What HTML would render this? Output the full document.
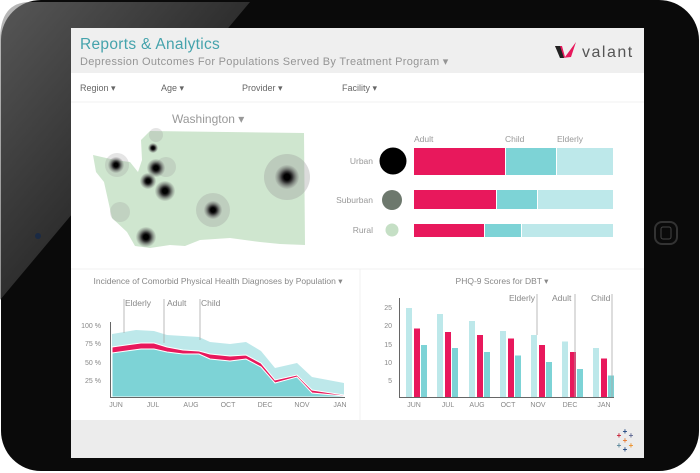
<!DOCTYPE html>
<html><head><meta charset="utf-8"><style>
body{margin:0;width:700px;height:473px;overflow:hidden;background:#fff;font-family:"Liberation Sans",sans-serif}
svg{display:block}
text{font-family:"Liberation Sans",sans-serif}
</style></head><body>
<svg width="700" height="473" viewBox="0 0 700 473" xmlns="http://www.w3.org/2000/svg">
<defs>
<linearGradient id="refl" x1="0" y1="0" x2="1" y2="1">
<stop offset="0" stop-color="#8a8a8a"/><stop offset="0.6" stop-color="#3a3a3a"/><stop offset="1" stop-color="#111"/>
</linearGradient>
<radialGradient id="dot"><stop offset="0.25" stop-color="#000"/><stop offset="0.45" stop-color="#333"/><stop offset="1" stop-color="#777" stop-opacity="0.1"/></radialGradient>
</defs>
<rect x="0" y="0" width="700" height="473" fill="#fff"/>
<rect x="1" y="0" width="698" height="471" rx="40" fill="#0a0a0a"/>
<path d="M30,2 L250,2 L0,300 L0,40 Q0,2 30,2Z" fill="url(#refl)" opacity="0.6"/>
<circle cx="38" cy="236" r="3" fill="#1a2a44"/>
<rect x="655" y="222" width="22" height="22" rx="7" fill="none" stroke="#333" stroke-width="2"/>
<rect x="661" y="227" width="10" height="12" rx="2" fill="none" stroke="#444" stroke-width="1"/>
<rect x="71" y="28" width="573" height="430" fill="#fff"/>
<rect x="71" y="28" width="573" height="45" fill="#efefef"/>
<rect x="71" y="420" width="573" height="38" fill="#ececec"/>
<text x="80" y="49" font-size="15.5" fill="#45a3ac" letter-spacing="0.3">Reports &amp; Analytics</text>
<text x="80" y="65" font-size="11" fill="#959595" letter-spacing="0.3">Depression Outcomes For Populations Served By Treatment Program ▾</text>
<path d="M555,46 L562,46 L565,57 L576,42 L571,57 L562,58Z" fill="#e8185c"/>
<path d="M555,46 L560,46 L564,58 L560,58Z" fill="#222"/>
<text x="582" y="57" font-size="16" fill="#555" letter-spacing="1.5">valant</text>
<g font-size="9" fill="#666">
<text x="80" y="91">Region ▾</text><text x="161" y="91">Age ▾</text><text x="242" y="91">Provider ▾</text><text x="342" y="91">Facility ▾</text>
</g>
<line x1="71" y1="102" x2="644" y2="102" stroke="#f2f2f2"/>
<text x="172" y="123" font-size="12" fill="#999">Washington ▾</text>
<path d="M150,131 L304,133 L305,245 L280,244 L260,242 L230,238 L200,240 L185,246 L170,245 L150,248 L135,246 L127,232 L112,218 L108,200 L104,182 L96,172 L93,155 L115,160 L130,162 L138,172 L142,160 L141,140Z" fill="#cfe6cf"/>
<g>
<circle cx="287" cy="177" r="23" fill="#999" opacity="0.35"/>
<circle cx="213" cy="210" r="17" fill="#999" opacity="0.3"/>
<circle cx="117" cy="165" r="12" fill="#999" opacity="0.25"/>
<circle cx="166" cy="167" r="10" fill="#999" opacity="0.25"/>
<circle cx="120" cy="212" r="10" fill="#999" opacity="0.25"/>
<circle cx="156" cy="135" r="7" fill="#999" opacity="0.25"/>
<circle cx="287" cy="177" r="12" fill="url(#dot)"/>
<circle cx="213" cy="210" r="9" fill="url(#dot)"/>
<circle cx="116" cy="165" r="8" fill="url(#dot)"/>
<circle cx="156" cy="168" r="9" fill="url(#dot)"/>
<circle cx="148" cy="181" r="8" fill="url(#dot)"/>
<circle cx="165" cy="191" r="10" fill="url(#dot)"/>
<circle cx="146" cy="237" r="10" fill="url(#dot)"/>
<circle cx="153" cy="148" r="5" fill="url(#dot)"/>
</g>
<g font-size="8.5" fill="#999">
<text x="414" y="142">Adult</text><text x="505" y="142">Child</text><text x="557" y="142">Elderly</text>
<text x="373" y="164" text-anchor="end">Urban</text>
<text x="373" y="203" text-anchor="end">Suburban</text>
<text x="373" y="233" text-anchor="end">Rural</text>
</g>
<circle cx="393" cy="161" r="13.5" fill="#000"/>
<circle cx="392" cy="200" r="10" fill="#6d786d"/>
<circle cx="392" cy="230" r="6.5" fill="#c5dfc5"/>
<rect x="414" y="148" width="91" height="27" fill="#e8185c"/><rect x="506" y="148" width="50" height="27" fill="#7dd3d6"/><rect x="557" y="148" width="56" height="27" fill="#bde8ea"/>
<rect x="414" y="190" width="82" height="19" fill="#e8185c"/><rect x="497" y="190" width="40" height="19" fill="#7dd3d6"/><rect x="538" y="190" width="75" height="19" fill="#bde8ea"/>
<rect x="414" y="224" width="70" height="13" fill="#e8185c"/><rect x="485" y="224" width="36" height="13" fill="#7dd3d6"/><rect x="522" y="224" width="91" height="13" fill="#bde8ea"/>
<line x1="71" y1="269" x2="644" y2="269" stroke="#f0f0f0"/>
<line x1="360" y1="269" x2="360" y2="420" stroke="#f0f0f0"/>
<text x="218" y="284" font-size="8.5" fill="#888" text-anchor="middle">Incidence of Comorbid Physical Health Diagnoses by Population ▾</text>
<text x="502" y="284" font-size="8.5" fill="#888" text-anchor="middle">PHQ-9 Scores for DBT ▾</text>
<path d="M112,334 L136,330 L154,331 L167,335 L183,336 L199,337 L210,342 L230,344 L246,342 L261,351 L275,368 L297,363 L312,377 L344,383 L344,397 L112,397Z" fill="#bde8ea"/>
<path d="M112,347 L141,343 L154,343 L167,347 L183,350 L199,351 L210,354 L230,356 L246,355 L261,363 L275,380 L297,375 L312,390 L344,395 L344,397 L112,397Z" fill="#e8185c" stroke="#fff" stroke-width="1"/>
<path d="M112,353 L141,349 L154,349 L167,352 L183,354 L199,354 L210,359 L230,361 L246,359 L261,367 L275,383 L297,377 L312,393 L344,396 L344,397 L112,397Z" fill="#7dd3d6" stroke="#fff" stroke-width="1"/>
<g stroke="#666" stroke-width="1">
<line x1="110.5" y1="322" x2="110.5" y2="397"/><line x1="110" y1="397.5" x2="345" y2="397.5"/>
</g>
<g font-size="7" fill="#888" text-anchor="end">
<text x="101" y="328">100 %</text><text x="101" y="346">75 %</text><text x="101" y="365">50 %</text><text x="101" y="383">25 %</text>
</g>
<g font-size="7" fill="#888" text-anchor="middle">
<text x="116" y="407">JUN</text><text x="153" y="407">JUL</text><text x="191" y="407">AUG</text><text x="228" y="407">OCT</text><text x="265" y="407">DEC</text><text x="302" y="407">NOV</text><text x="340" y="407">JAN</text>
</g>
<g stroke="#aaa" stroke-width="0.8">
<line x1="124" y1="299" x2="124" y2="333"/><line x1="164" y1="299" x2="164" y2="343"/><line x1="200" y1="299" x2="200" y2="340"/>
</g>
<g font-size="8.5" fill="#888">
<text x="125" y="306">Elderly</text><text x="167" y="306">Adult</text><text x="201" y="306">Child</text>
</g>
<g>
<rect x="406" y="308" width="6" height="89" fill="#bde8ea"/><rect x="414" y="328.5" width="6" height="68.5" fill="#e8185c"/><rect x="421" y="345" width="6" height="52" fill="#7dd3d6"/>
<rect x="437" y="314" width="6" height="83" fill="#bde8ea"/><rect x="445" y="332" width="6" height="65" fill="#e8185c"/><rect x="452" y="348" width="6" height="49" fill="#7dd3d6"/>
<rect x="469" y="321" width="6" height="76" fill="#bde8ea"/><rect x="477" y="335" width="6" height="62" fill="#e8185c"/><rect x="484" y="352" width="6" height="45" fill="#7dd3d6"/>
<rect x="500" y="331" width="6" height="66" fill="#bde8ea"/><rect x="508" y="338.5" width="6" height="58.5" fill="#e8185c"/><rect x="515" y="355.5" width="6" height="41.5" fill="#7dd3d6"/>
<rect x="531" y="335" width="6" height="62" fill="#bde8ea"/><rect x="539" y="345" width="6" height="52" fill="#e8185c"/><rect x="546" y="362" width="6" height="35" fill="#7dd3d6"/>
<rect x="562" y="341.5" width="6" height="55.5" fill="#bde8ea"/><rect x="570" y="352" width="6" height="45" fill="#e8185c"/><rect x="577" y="369" width="6" height="28" fill="#7dd3d6"/>
<rect x="593" y="348" width="6" height="49" fill="#bde8ea"/><rect x="601" y="358.5" width="6" height="38.5" fill="#e8185c"/><rect x="608" y="375.5" width="6" height="21.5" fill="#7dd3d6"/>
</g>
<g stroke="#666" stroke-width="1">
<line x1="399.5" y1="298" x2="399.5" y2="397"/><line x1="399" y1="397.5" x2="614" y2="397.5"/>
</g>
<g font-size="7" fill="#888" text-anchor="end">
<text x="392" y="310">25</text><text x="392" y="328">20</text><text x="392" y="347">15</text><text x="392" y="365">10</text><text x="392" y="383">5</text>
</g>
<g font-size="7" fill="#888" text-anchor="middle">
<text x="414" y="407">JUN</text><text x="448" y="407">JUL</text><text x="477" y="407">AUG</text><text x="508" y="407">OCT</text><text x="538" y="407">NOV</text><text x="570" y="407">DEC</text><text x="604" y="407">JAN</text>
</g>
<g stroke="#aaa" stroke-width="0.8">
<line x1="537" y1="294" x2="537" y2="335"/><line x1="575" y1="294" x2="575" y2="397"/><line x1="612" y1="294" x2="612" y2="397"/>
</g>
<g font-size="8.5" fill="#888">
<text x="509" y="301">Elderly</text><text x="552" y="301">Adult</text><text x="591" y="301">Child</text>
</g>
<g font-size="8" text-anchor="middle" font-weight="bold">
<text x="625" y="443" fill="#e8762d">+</text><text x="619" y="438" fill="#c72035">+</text><text x="631" y="438" fill="#5b6591">+</text>
<text x="619" y="448" fill="#59879b">+</text><text x="631" y="448" fill="#eb912b">+</text><text x="625" y="434" fill="#1f457e">+</text><text x="625" y="452" fill="#1f447e">+</text>
</g>
</svg>
</body></html>
